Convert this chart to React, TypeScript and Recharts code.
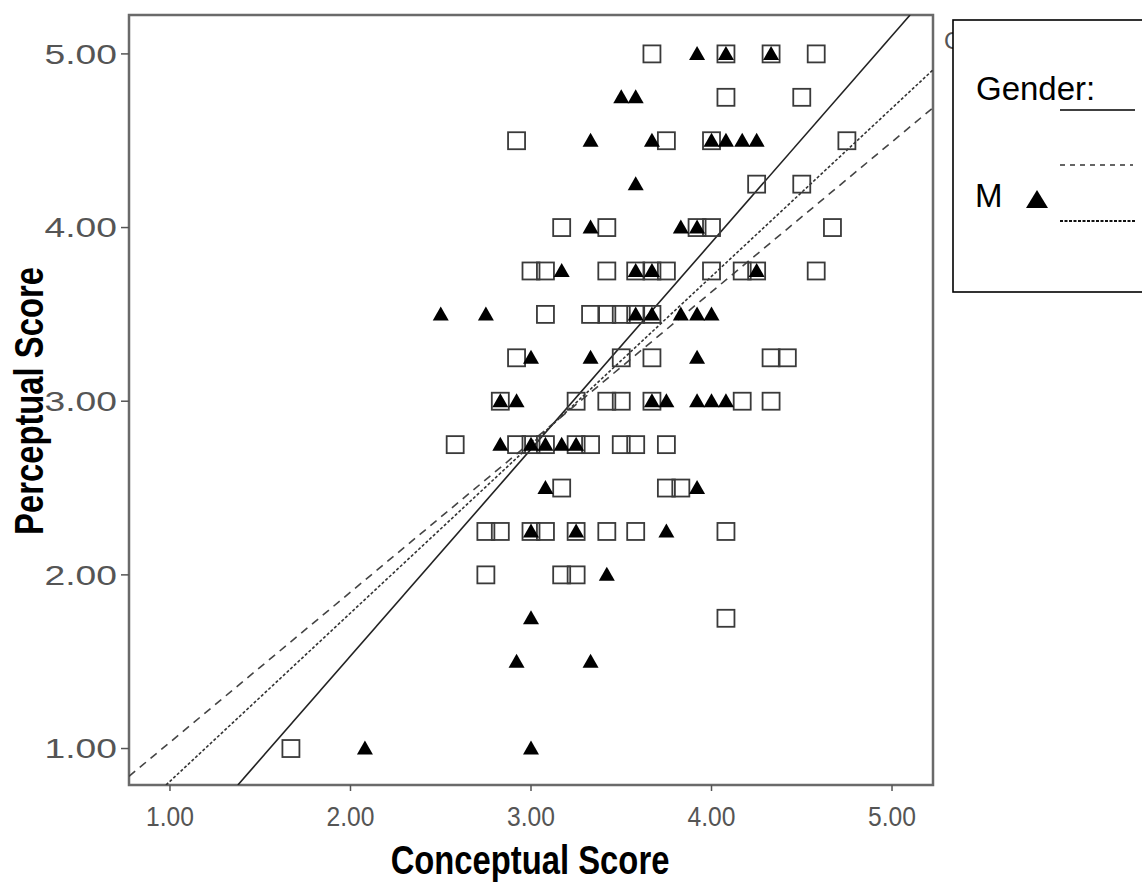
import { ReferenceArea, ReferenceLine, Scatter, ScatterChart, XAxis, YAxis } from 'recharts';

// conceptual / perceptual scores
const squareX = [
  3.67, 4.08, 4.33, 4.58,
  4.08, 4.5,
  2.92, 3.75, 4.0, 4.75,
  4.25, 4.5,
  3.17, 3.42, 3.92, 4.0, 4.67,
  3.0, 3.08, 3.42, 3.58, 3.67, 3.75, 4.0, 4.17, 4.25, 4.58,
  3.08, 3.33, 3.42, 3.5, 3.58, 3.67,
  2.92, 3.5, 3.67, 4.33, 4.42,
  2.83, 3.25, 3.42, 3.5, 3.67, 4.17, 4.33,
  2.58, 2.92, 3.0, 3.08, 3.25, 3.33, 3.5, 3.58, 3.75,
  3.17, 3.75, 3.83,
  2.75, 2.83, 3.0, 3.08, 3.25, 3.42, 3.58, 4.08,
  2.75, 3.17, 3.25,
  4.08,
  1.67,
];
const squareY = [
  5.0, 5.0, 5.0, 5.0,
  4.75, 4.75,
  4.5, 4.5, 4.5, 4.5,
  4.25, 4.25,
  4.0, 4.0, 4.0, 4.0, 4.0,
  3.75, 3.75, 3.75, 3.75, 3.75, 3.75, 3.75, 3.75, 3.75, 3.75,
  3.5, 3.5, 3.5, 3.5, 3.5, 3.5,
  3.25, 3.25, 3.25, 3.25, 3.25,
  3.0, 3.0, 3.0, 3.0, 3.0, 3.0, 3.0,
  2.75, 2.75, 2.75, 2.75, 2.75, 2.75, 2.75, 2.75, 2.75,
  2.5, 2.5, 2.5,
  2.25, 2.25, 2.25, 2.25, 2.25, 2.25, 2.25, 2.25,
  2.0, 2.0, 2.0,
  1.75,
  1.0,
];

const maleX = [
  3.92, 4.08, 4.33,
  3.5, 3.58,
  3.33, 3.67, 4.0, 4.08, 4.17, 4.25,
  3.58,
  3.33, 3.83, 3.92,
  3.17, 3.58, 3.67, 4.25,
  2.5, 2.75, 3.58, 3.67, 3.83, 3.92, 4.0,
  3.0, 3.33, 3.92,
  2.83, 2.92, 3.67, 3.75, 3.92, 4.0, 4.08,
  2.83, 3.0, 3.08, 3.17, 3.25,
  3.08, 3.92,
  3.0, 3.25, 3.75,
  3.42,
  3.0,
  2.92, 3.33,
  2.08, 3.0,
];
const maleY = [
  5.0, 5.0, 5.0,
  4.75, 4.75,
  4.5, 4.5, 4.5, 4.5, 4.5, 4.5,
  4.25,
  4.0, 4.0, 4.0,
  3.75, 3.75, 3.75, 3.75,
  3.5, 3.5, 3.5, 3.5, 3.5, 3.5, 3.5,
  3.25, 3.25, 3.25,
  3.0, 3.0, 3.0, 3.0, 3.0, 3.0, 3.0,
  2.75, 2.75, 2.75, 2.75, 2.75,
  2.5, 2.5,
  2.25, 2.25, 2.25,
  2.0,
  1.75,
  1.5, 1.5,
  1.0, 1.0,
];

// fit lines, end points read where they leave the frame
const solidFit = [
  { x: 1.376, y: 0.79 },
  { x: 5.1, y: 5.224 },
];
const dashedFit = [
  { x: 0.773, y: 0.84 },
  { x: 5.227, y: 4.69 },
];
const dottedFit = [
  { x: 0.978, y: 0.79 },
  { x: 5.227, y: 4.908 },
];

const xDomain = [0.773, 5.227];
const yDomain = [0.79, 5.224];
const tickValues = [1, 2, 3, 4, 5];

const squareData = squareX.map((x, i) => ({ x, y: squareY[i] }));
const maleData = maleX.map((x, i) => ({ x, y: maleY[i] }));

const FONT = "'Liberation Sans', Arial, sans-serif";

const SquareMark = (props: any) => {
  const { cx, cy } = props;
  return (
    <rect x={cx - 8.5} y={cy - 8.5} width={17} height={17} fill="none" stroke="#3a3a3a" strokeWidth={1.8} />
  );
};

const TriangleMark = (props: any) => {
  const { cx, cy } = props;
  return <path d={`M${cx},${cy - 8} L${cx + 8},${cy + 6} L${cx - 8},${cy + 6} Z`} fill="#000" />;
};

const YTick = (props: any) => {
  const { x, y, payload } = props;
  return (
    <text
      x={0}
      y={0}
      textAnchor="end"
      dominantBaseline="central"
      fill="#555"
      fontSize={28}
      fontFamily={FONT}
      transform={`translate(${x - 2},${y}) scale(1.33,1)`}
    >
      {payload.value.toFixed(2)}
    </text>
  );
};

const XTick = (props: any) => {
  const { x, y, payload } = props;
  return (
    <text
      x={0}
      y={0}
      textAnchor="middle"
      fill="#555"
      fontSize={28}
      fontFamily={FONT}
      transform={`translate(${x},${y + 35}) scale(0.88,1)`}
    >
      {payload.value.toFixed(2)}
    </text>
  );
};

export default function App() {
  return (
    <div style={{ position: 'absolute', left: 0, top: 0, width: 1142, height: 884, background: '#fff' }}>
      <ScatterChart width={1142} height={884} margin={{ top: 15, right: 209, bottom: 0, left: 0 }}>
        <XAxis
          type="number"
          dataKey="x"
          domain={xDomain}
          allowDataOverflow
          ticks={tickValues}
          height={99}
          axisLine={false}
          tickLine={{ stroke: '#555', strokeWidth: 1.5 }}
          tickSize={6}
          tickMargin={0}
          tick={<XTick />}
          label={{
            content: () => (
              <text
                x={0}
                y={0}
                transform="translate(530,874) scale(0.82,1)"
                textAnchor="middle"
                fontSize={40}
                fontWeight="bold"
                fontFamily={FONT}
                fill="#000"
              >
                Conceptual Score
              </text>
            ),
          }}
        />
        <YAxis
          type="number"
          dataKey="y"
          domain={yDomain}
          allowDataOverflow
          ticks={tickValues}
          width={129}
          axisLine={false}
          tickLine={{ stroke: '#555', strokeWidth: 1.5 }}
          tickSize={8}
          tick={<YTick />}
          label={{
            content: () => (
              <text
                x={0}
                y={0}
                transform="translate(43,401) rotate(-90) scale(0.82,1)"
                textAnchor="middle"
                fontSize={40}
                fontWeight="bold"
                fontFamily={FONT}
                fill="#000"
              >
                Perceptual Score
              </text>
            ),
          }}
        />
        <ReferenceArea
          x1={xDomain[0]}
          x2={xDomain[1]}
          y1={yDomain[0]}
          y2={yDomain[1]}
          fill="none"
          stroke="#6a6a6a"
          strokeWidth={2.5}
          ifOverflow="visible"
        />
        <ReferenceLine segment={solidFit} stroke="#222" strokeWidth={1.6} ifOverflow="hidden" />
        <ReferenceLine segment={dashedFit} stroke="#444" strokeWidth={1.6} strokeDasharray="8 6" ifOverflow="hidden" />
        <ReferenceLine segment={dottedFit} stroke="#333" strokeWidth={1.6} strokeDasharray="3 2" ifOverflow="hidden" />
        <Scatter name="F" data={squareData} shape={<SquareMark />} isAnimationActive={false} />
        <Scatter name="M" data={maleData} shape={<TriangleMark />} isAnimationActive={false} />
      </ScatterChart>
      <svg
        width={1142}
        height={884}
        style={{ position: 'absolute', left: 0, top: 0, pointerEvents: 'none' }}
      >
        <text x={944} y={49} fontSize={24} fill="#555" fontFamily={FONT}>
          G
        </text>
        <rect x={953} y={20} width={200} height={272} fill="#fff" stroke="#000" strokeWidth={1.6} />
        <text x={976} y={100} fontSize={33} fill="#000" fontFamily={FONT}>
          Gender:
        </text>
        <line x1={1060} x2={1135} y1={110} y2={110} stroke="#000" strokeWidth={1.5} />
        <line x1={1060} x2={1133} y1={165} y2={165} stroke="#333" strokeWidth={1.5} strokeDasharray="5 5" />
        <text x={975} y={207} fontSize={33} fill="#000" fontFamily={FONT}>
          M
        </text>
        <path d="M1037,190 L1048,208 L1026,208 Z" fill="#000" />
        <line x1={1060} x2={1135} y1={221} y2={221} stroke="#111" strokeWidth={2.2} strokeDasharray="3 1.5" />
      </svg>
    </div>
  );
}
